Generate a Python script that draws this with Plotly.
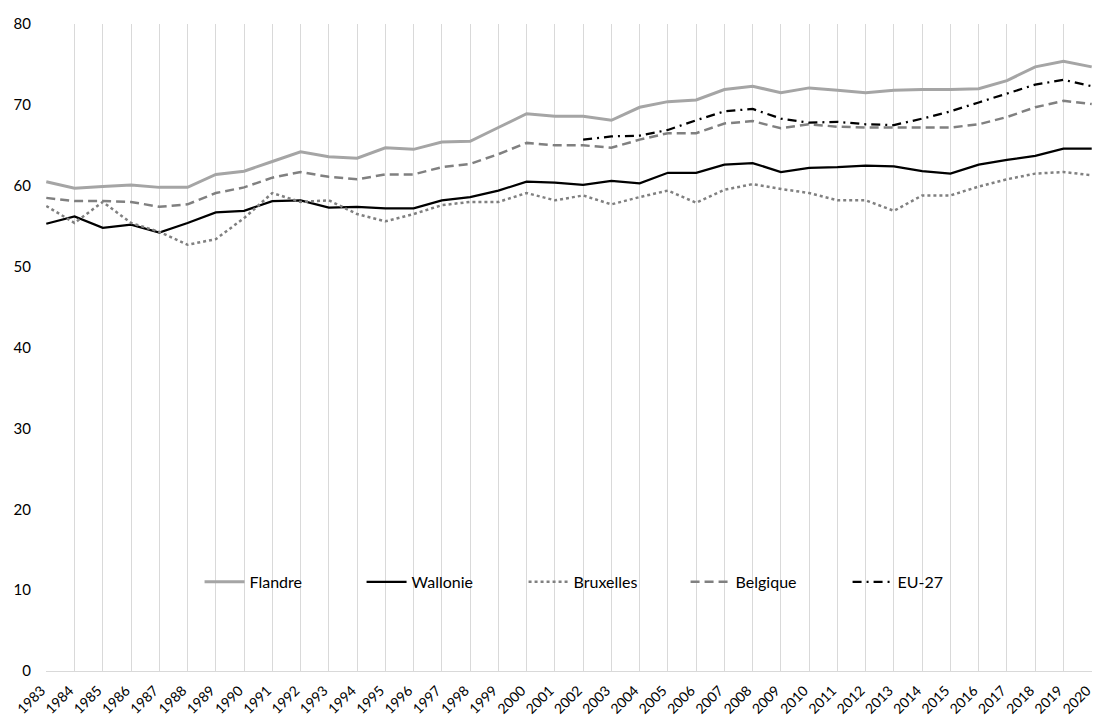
import plotly.graph_objects as go

years = list(range(1983, 2021))

flandre = [60.5, 59.7, 59.9, 60.1, 59.8, 59.8, 61.4, 61.8, 63.0, 64.2,
           63.6, 63.4, 64.7, 64.5, 65.4, 65.5, 67.2, 68.9, 68.6, 68.6,
           68.1, 69.7, 70.4, 70.6, 71.9, 72.3, 71.5, 72.1, 71.8, 71.5,
           71.8, 71.9, 71.9, 72.0, 73.0, 74.7, 75.4, 74.7]

wallonie = [55.3, 56.2, 54.8, 55.2, 54.2, 55.4, 56.7, 56.9, 58.1, 58.2,
            57.3, 57.4, 57.2, 57.2, 58.2, 58.6, 59.4, 60.5, 60.4, 60.1,
            60.6, 60.3, 61.6, 61.6, 62.6, 62.8, 61.7, 62.2, 62.3, 62.5,
            62.4, 61.8, 61.5, 62.6, 63.2, 63.7, 64.6, 64.6]

bruxelles = [57.5, 55.4, 58.0, 55.4, 54.3, 52.7, 53.4, 56.0, 59.1, 58.0,
             58.2, 56.5, 55.6, 56.5, 57.6, 58.0, 58.0, 59.1, 58.2, 58.8,
             57.7, 58.6, 59.4, 57.9, 59.5, 60.2, 59.6, 59.1, 58.2, 58.2,
             56.9, 58.8, 58.8, 59.9, 60.8, 61.5, 61.7, 61.3]

belgique = [58.5, 58.1, 58.1, 58.0, 57.4, 57.7, 59.1, 59.8, 61.0, 61.7,
            61.1, 60.8, 61.4, 61.4, 62.3, 62.7, 63.9, 65.3, 65.0, 65.0,
            64.7, 65.7, 66.5, 66.5, 67.7, 68.0, 67.1, 67.6, 67.3, 67.2,
            67.2, 67.2, 67.2, 67.6, 68.5, 69.7, 70.5, 70.1]

eu_years = list(range(2002, 2021))
eu27 = [65.7, 66.1, 66.2, 66.9, 68.1, 69.2, 69.5, 68.3, 67.8, 67.9,
        67.6, 67.5, 68.3, 69.2, 70.3, 71.4, 72.5, 73.1, 72.3]

FONT = "Lato"

series = [
    ("Flandre", years, flandre, dict(color="#A5A5A5", width=3, dash="solid")),
    ("Wallonie", years, wallonie, dict(color="#000000", width=2.25, dash="solid")),
    ("Bruxelles", years, bruxelles, dict(color="#808080", width=2.5, dash="dot")),
    ("Belgique", years, belgique, dict(color="#808080", width=2.5, dash="9px,5px")),
    ("EU-27", eu_years, eu27, dict(color="#000000", width=2.25, dash="9px,5px,2px,5px")),
]

fig = go.Figure()
for name, xs, ys, line in series:
    fig.add_trace(go.Scatter(x=xs, y=ys, name=name, mode="lines", line=line))

# white backdrop behind the legend, hiding the gridlines there
fig.add_shape(type="rect", xref="paper", yref="paper",
              x0=0.123, x1=0.905, y0=0.079, y1=0.193,
              fillcolor="white", line_width=0, layer="between")

fig.update_layout(
    width=1095, height=720,
    margin=dict(l=46, r=3, t=24, b=49),
    paper_bgcolor="white", plot_bgcolor="white",
    font=dict(family=FONT, color="#000000", size=14),
    showlegend=True,
    legend=dict(orientation="h", x=0.534, xanchor="center",
                y=0.1376, yanchor="middle", bgcolor="rgba(0,0,0,0)",
                font=dict(family=FONT, size=16, color="#000000"),
                itemwidth=40, entrywidth=107, entrywidthmode="pixels"),
    xaxis=dict(range=[1982.99, 2020.01], tickvals=years,
               ticktext=[str(y) for y in years], tickangle=-45,
               ticklabeloverflow="allow", automargin=False,
               ticklabelshift=-5, ticklabelstandoff=5,
               showgrid=True, gridcolor="#D9D9D9", gridwidth=1,
               showline=True, linecolor="#D9D9D9", linewidth=1,
               zeroline=False, ticks="",
               tickfont=dict(family=FONT, size=14, color="#000000")),
    yaxis=dict(range=[0, 80], dtick=10, showgrid=False, zeroline=False,
               showline=False, ticks="", ticklabelstandoff=14,
               automargin=False,
               tickfont=dict(family=FONT, size=15, color="#000000")),
)

fig.write_html("out.html")
